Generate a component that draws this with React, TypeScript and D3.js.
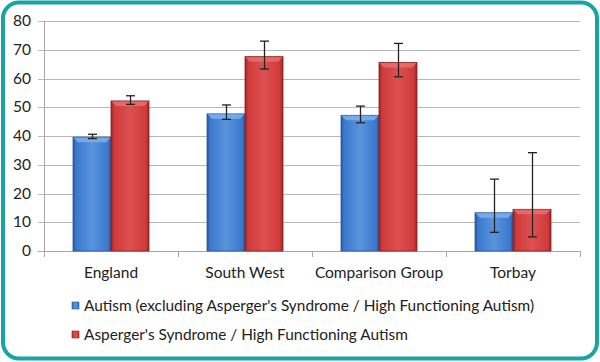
import React, { useRef, useEffect } from "react";
import * as d3 from "d3";

const categories = ["England", "South West", "Comparison Group", "Torbay"];
const seriesNames = [
  "Autism (excluding Asperger's Syndrome / High Functioning Autism)",
  "Asperger's Syndrome / High Functioning Autism",
];
const autism = [39.6, 47.7, 47.2, 13.3];
const autismLow = [39.1, 45.8, 44.6, 6.5];
const autismHigh = [40.6, 50.8, 50.4, 25.0];
const asperger = [52.2, 67.6, 65.6, 14.5];
const aspergerLow = [51.0, 63.3, 60.6, 4.9];
const aspergerHigh = [54.0, 73.0, 72.2, 34.2];
const yTicks = [0, 10, 20, 30, 40, 50, 60, 70, 80];

const FONT = "Lato, 'Open Sans', sans-serif";

function App() {
  const svgRef = useRef<SVGSVGElement | null>(null);

  useEffect(() => {
    const svg = d3.select(svgRef.current);
    svg.selectAll("*").remove();
    const width = 600;
    const height = 362;
    const margin = { top: 21, right: 20, bottom: 111, left: 44 };
    const innerWidth = width - margin.left - margin.right;
    const innerHeight = height - margin.top - margin.bottom;

    const defs = svg.append("defs");
    const colors = [
      { id: "blue", light: "#5893dc", mid: "#3b79cf", dark: "#27579c" },
      { id: "red", light: "#de5050", mid: "#cf3a3a", dark: "#982323" },
    ];
    colors.forEach((c) => {
      const grad = defs
        .append("linearGradient")
        .attr("id", `grad-${c.id}`)
        .attr("x1", "0")
        .attr("x2", "1")
        .attr("y1", "0")
        .attr("y2", "0");
      grad.append("stop").attr("offset", "0%").attr("stop-color", c.dark);
      grad.append("stop").attr("offset", "8%").attr("stop-color", c.mid);
      grad.append("stop").attr("offset", "50%").attr("stop-color", c.light);
      grad.append("stop").attr("offset", "92%").attr("stop-color", c.mid);
      grad.append("stop").attr("offset", "100%").attr("stop-color", c.dark);
    });

    // frame
    svg
      .append("rect")
      .attr("x", 3)
      .attr("y", 2.5)
      .attr("width", width - 6)
      .attr("height", height - 6)
      .attr("rx", 16)
      .attr("fill", "#fff")
      .attr("stroke", "#18a4a5")
      .attr("stroke-width", 4);

    const x = d3
      .scaleBand<string>()
      .domain(categories)
      .range([0, innerWidth]);
    const x1 = d3
      .scaleBand<number>()
      .domain([0, 1])
      .range([0, 76]);
    const y = d3.scaleLinear().domain([0, 80]).range([innerHeight, 0]);

    const g = svg
      .append("g")
      .attr("transform", `translate(${margin.left},${margin.top})`);

    // gridlines
    g.selectAll("line.grid")
      .data(yTicks)
      .enter()
      .append("line")
      .attr("x1", -6)
      .attr("x2", innerWidth)
      .attr("y1", (d) => Math.round(y(d)) + 0.5)
      .attr("y2", (d) => Math.round(y(d)) + 0.5)
      .attr("stroke", (d) => (d === 0 ? "#a6a6a6" : "#b8b8b8"))
      .attr("stroke-width", 1.2);

    g.selectAll("text.ytick")
      .data(yTicks)
      .enter()
      .append("text")
      .attr("x", -13)
      .attr("y", (d) => y(d) + 5)
      .attr("text-anchor", "end")
      .attr("font-family", FONT)
      .attr("font-size", 15.5)
      .attr("fill", "#222")
      .text((d) => d);

    // y axis line
    g.append("line")
      .attr("x1", 0.5)
      .attr("x2", 0.5)
      .attr("y1", 0)
      .attr("y2", innerHeight)
      .attr("stroke", "#a6a6a6");

    // category ticks
    const boundaries = categories.map((c) => x(c) as number).concat([innerWidth]);
    g.selectAll("line.xtick")
      .data(boundaries)
      .enter()
      .append("line")
      .attr("x1", (d) => Math.round(d) + 0.5)
      .attr("x2", (d) => Math.round(d) + 0.5)
      .attr("y1", innerHeight)
      .attr("y2", innerHeight + 6)
      .attr("stroke", "#a6a6a6");

    g.selectAll("text.xlabel")
      .data(categories)
      .enter()
      .append("text")
      .attr("x", (d) => (x(d) as number) + x.bandwidth() / 2)
      .attr("y", innerHeight + 27)
      .attr("text-anchor", "middle")
      .attr("font-family", FONT)
      .attr("font-size", 15.5)
      .attr("fill", "#222")
      .text((d) => d);

    const series = [
      { values: autism, low: autismLow, high: autismHigh, fill: "url(#grad-blue)", light: "#7fb0ea", edge: "#2a5b9f" },
      { values: asperger, low: aspergerLow, high: aspergerHigh, fill: "url(#grad-red)", light: "#e87070", edge: "#8a2020" },
    ];

    series.forEach((s, si) => {
      const bw = x1.bandwidth();
      const bx = (i: number) =>
        (x(categories[i]) as number) + x.bandwidth() / 2 - 38 + (x1(si) as number);
      const sg = g.append("g");
      sg.selectAll("rect")
        .data(s.values)
        .enter()
        .append("rect")
        .attr("x", (_, i) => bx(i))
        .attr("y", (d) => y(d))
        .attr("width", bw)
        .attr("height", (d) => innerHeight - y(d))
        .attr("fill", s.fill)
        .attr("stroke", s.edge)
        .attr("stroke-width", 0.8);
      // top bevel
      sg.selectAll("path.bevel")
        .data(s.values)
        .enter()
        .append("path")
        .attr("d", (d, i) => {
          const x0 = bx(i);
          const y0 = y(d);
          return `M${x0 + 0.5},${y0 + 0.5} L${x0 + bw - 0.5},${y0 + 0.5} L${x0 + bw - 5},${y0 + 5} L${x0 + 5},${y0 + 5} Z`;
        })
        .attr("fill", s.light)
        .attr("opacity", 0.85);

      // error bars
      const eg = g.append("g").attr("stroke", "#222").attr("stroke-width", 1.3);
      s.values.forEach((_, i) => {
        const cx = Math.round(bx(i) + bw / 2) + 0.5;
        eg.append("line")
          .attr("x1", cx)
          .attr("x2", cx)
          .attr("y1", y(s.high[i]))
          .attr("y2", y(s.low[i]));
        [s.high[i], s.low[i]].forEach((v) => {
          eg.append("line")
            .attr("x1", cx - 4.5)
            .attr("x2", cx + 4.5)
            .attr("y1", y(v))
            .attr("y2", y(v));
        });
      });
    });

    // legend
    const legend = svg.append("g").attr("transform", "translate(72,302)");
    const legendFills = ["url(#grad-blue)", "url(#grad-red)"];
    seriesNames.forEach((name, i) => {
      const lg = legend.append("g").attr("transform", `translate(0,${i * 29})`);
      lg.append("rect")
        .attr("x", 0)
        .attr("y", 0)
        .attr("width", 7)
        .attr("height", 7)
        .attr("fill", legendFills[i])
        .attr("stroke", i === 0 ? "#2a5b9f" : "#8a2020")
        .attr("stroke-width", 0.6);
      lg.append("text")
        .attr("x", 12)
        .attr("y", 9)
        .attr("font-family", FONT)
        .attr("font-size", 15.4)
        .attr("fill", "#222")
        .text(name);
    });
  }, []);

  return (
    <svg
      ref={svgRef}
      width={600}
      height={362}
      style={{ position: "absolute", left: 0, top: 0 }}
    ></svg>
  );
}

export default App;
